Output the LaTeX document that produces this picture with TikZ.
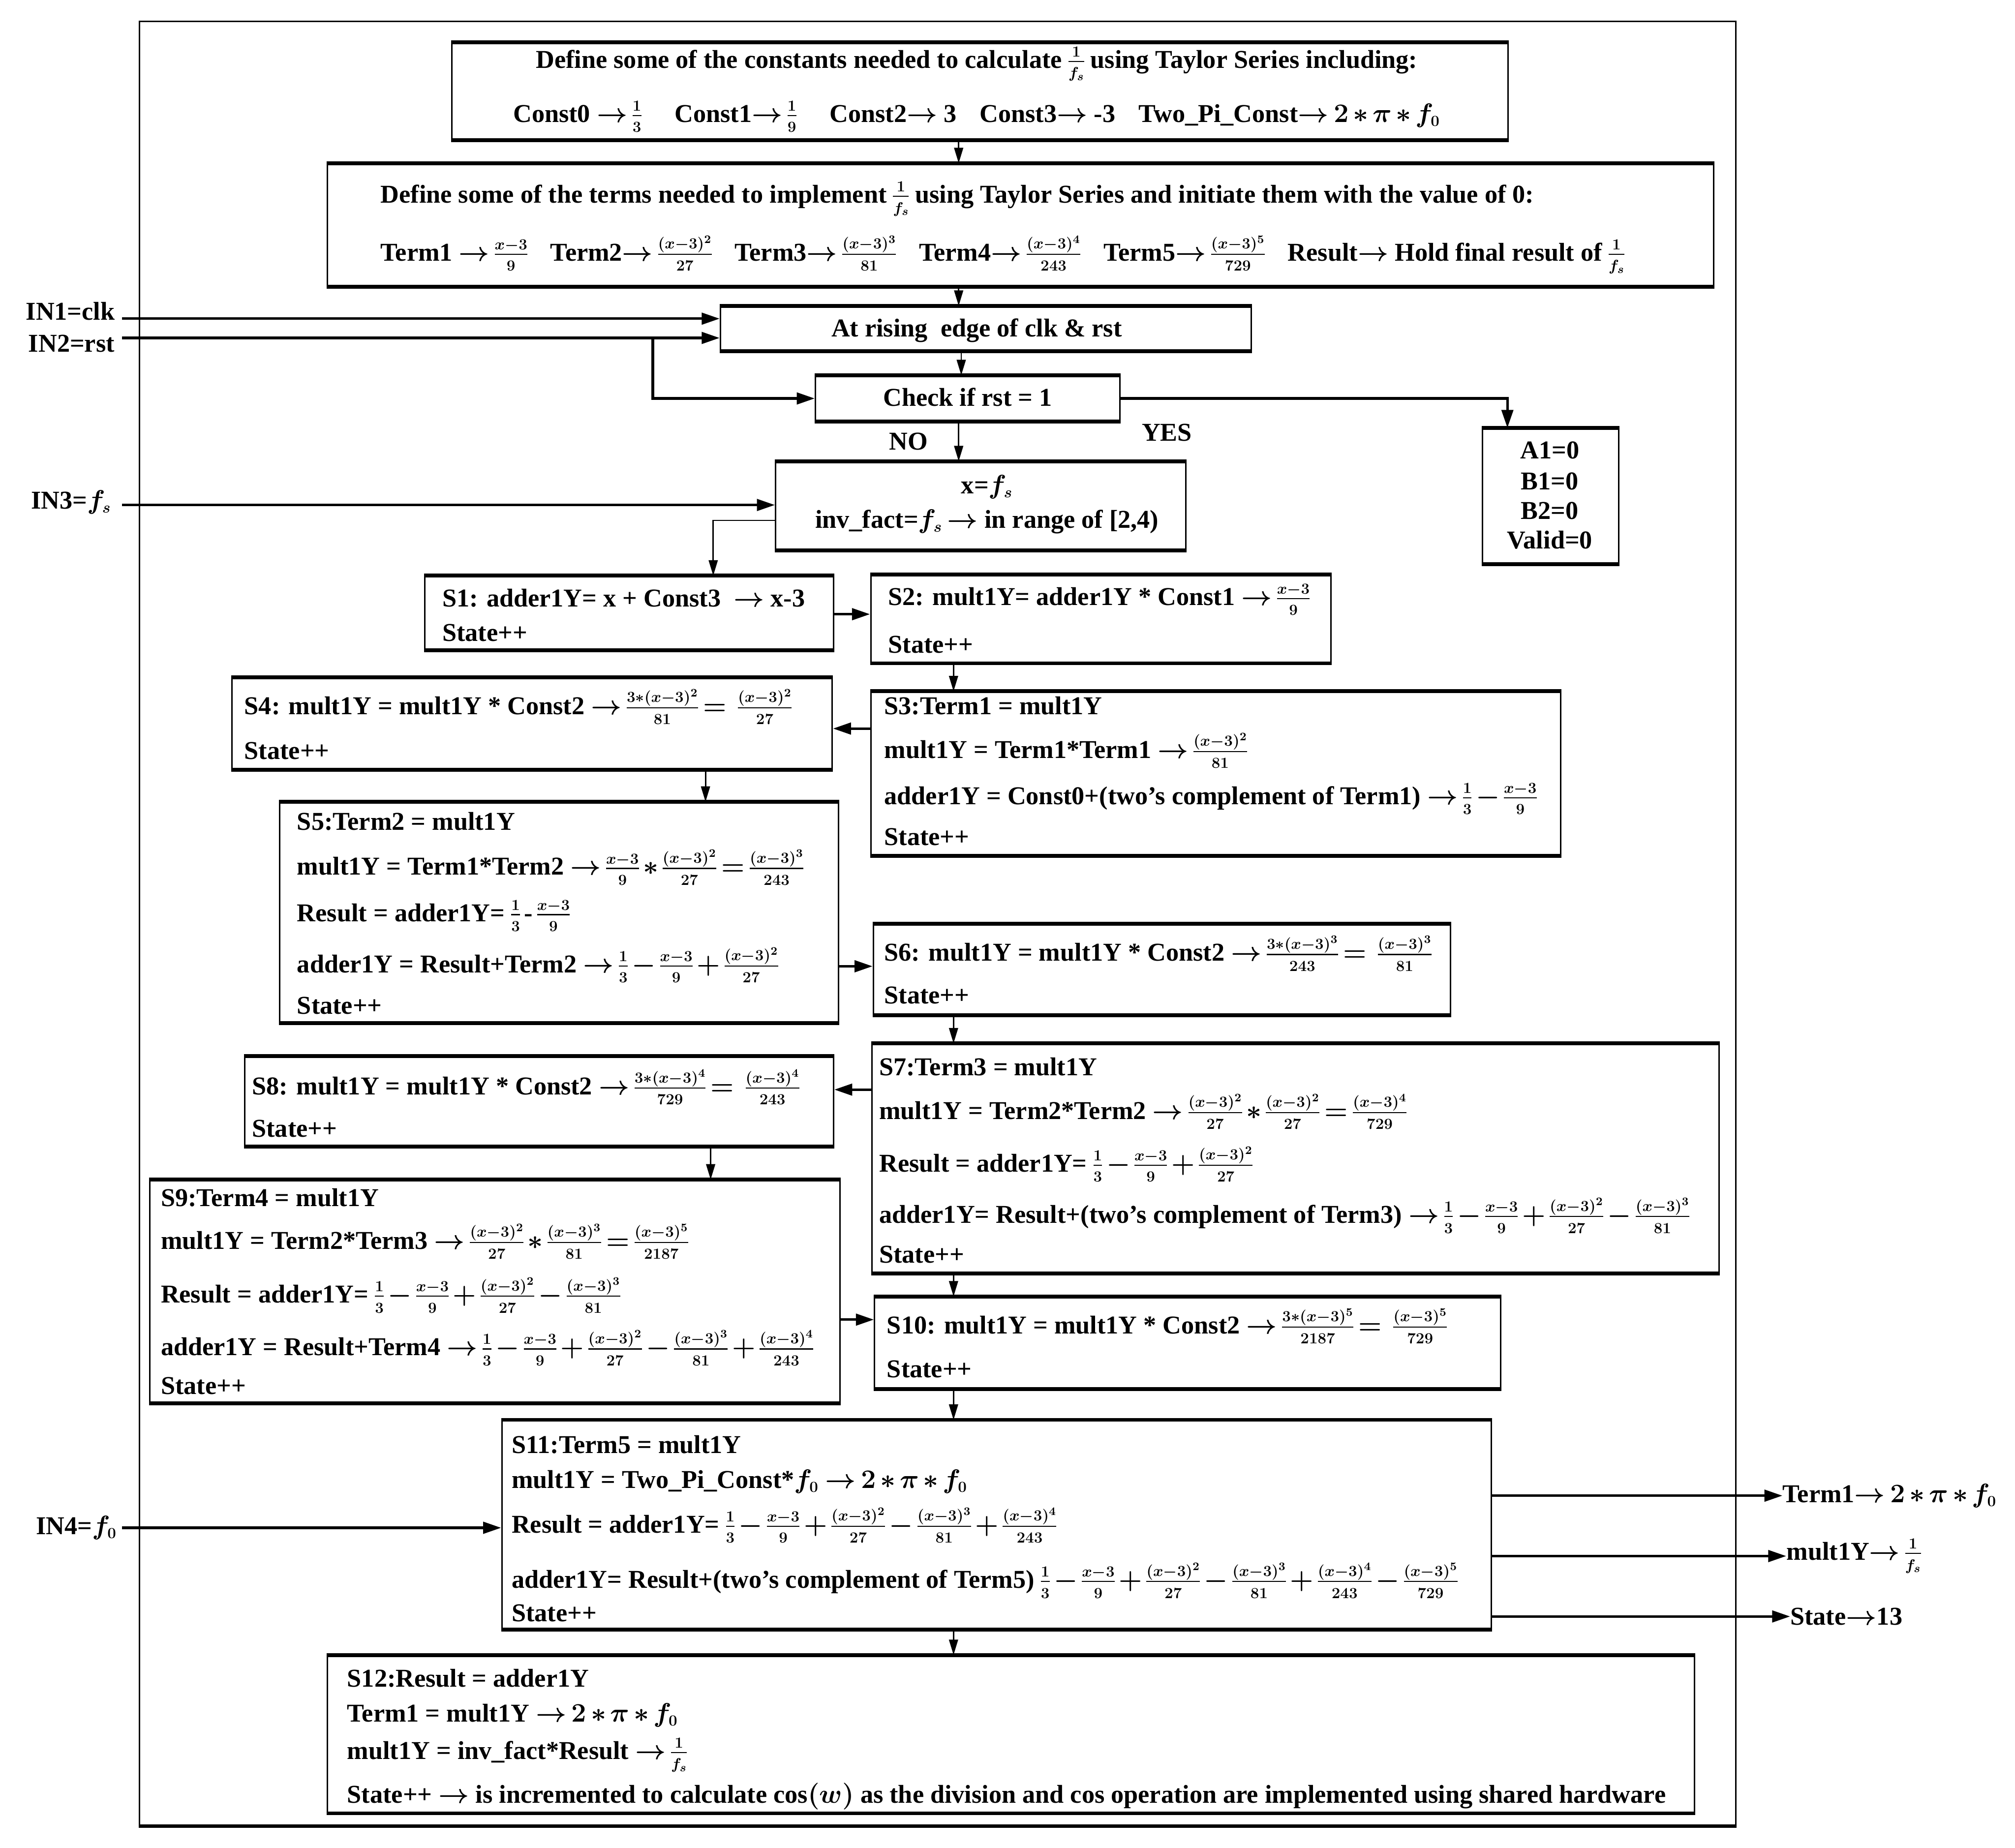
\documentclass[tikz,border=0pt]{standalone}
\usepackage{amsmath}
\usepackage{fontspec}
\setmainfont{Liberation Serif}
\usetikzlibrary{arrows.meta}
\DeclareMathSizes{20}{20}{13}{9.5}
\AtBeginDocument{\medmuskip=2.5mu\relax\thickmuskip=3mu\relax\nulldelimiterspace=0pt\relax}
\newcommand{\drawflowbox}[5]{%
  \pgfmathsetmacro\fbw{#4-#2}%
  \pgfmathsetmacro\fbh{#5-#3}%
  \node[boxsty, anchor=north west, minimum width=\fbw pt, minimum height=\fbh pt] (#1) at (#2,#3) {};
  \draw[edgesty] (#1.north west) -- (#1.north east) (#1.south west) -- (#1.south east);
}
\tikzset{
  tl/.style={anchor=base west, inner sep=0pt},
  tc/.style={anchor=base, inner sep=0pt},
  boxsty/.style={draw, line width=1.2pt, inner sep=0pt},
  edgesty/.style={line width=3pt},
  arr/.style={line width=1.1pt, -{Triangle[length=12pt,width=7pt]}},
  inarr/.style={line width=2pt, -{Triangle[length=14pt,width=9pt]}},
}
\begin{document}
\begin{tikzpicture}[x=1pt, y=-1pt, font=\fontsize{20}{24}\selectfont\bfseries\boldmath]
\useasboundingbox[fill=white] (0,0) rectangle (1568,1438);

% outer frame
\node[boxsty, anchor=north west, minimum width=1242pt, minimum height=1404pt] (outer) at (108,16) {};
\draw[edgesty] (outer.south west) -- (outer.south east);

% boxes
\drawflowbox{boxA}{351}{33}{1173}{108}
\drawflowbox{boxB}{254}{127}{1333}{222}
\drawflowbox{boxC}{560}{238}{973}{272}
\drawflowbox{boxD}{634}{292}{871}{327}
\drawflowbox{boxE}{1153}{333}{1259}{438}
\drawflowbox{boxF}{603}{359}{922}{427}
\drawflowbox{s1}{330}{448}{648}{505}
\drawflowbox{s2}{677}{447}{1035}{515}
\drawflowbox{s3}{677}{538}{1214}{665}
\drawflowbox{s4}{180}{527}{647}{598}
\drawflowbox{s5}{217}{624}{652}{795}
\drawflowbox{s6}{679}{719}{1128}{789}
\drawflowbox{s7}{678}{812}{1337}{990}
\drawflowbox{s8}{190}{822}{648}{891}
\drawflowbox{s9}{116}{918}{653}{1091}
\drawflowbox{s10}{680}{1009}{1167}{1080}
\drawflowbox{s11}{390}{1105}{1160}{1267}
\drawflowbox{s12}{254}{1288}{1318}{1410}

% box A
\node[tc] (a1) at (760,53) {Define some of the constants needed to calculate $\frac{1}{f_s}$ using Taylor Series including:};
\node[tc] (a2) at (760,95) {Const0 $\rightarrow\frac{1}{3}$\hspace{1.3em}Const1$\rightarrow\frac{1}{9}$\hspace{1.3em}Const2$\rightarrow$ 3\hspace{0.9em}Const3$\rightarrow$ -3\hspace{0.9em}Two\_Pi\_Const$\rightarrow 2\ast\pi\ast f_0$};
% box B
\node[tl] (b1) at (296,158) {Define some of the terms needed to implement $\frac{1}{f_s}$ using Taylor Series and initiate them with the value of 0:};
\node[tl] (b2) at (296,203) {Term1 $\rightarrow\frac{x-3}{9}$\hspace{0.9em}Term2$\rightarrow\frac{(x-3)^2}{27}$\hspace{0.9em}Term3$\rightarrow\frac{(x-3)^3}{81}$\hspace{0.9em}Term4$\rightarrow\frac{(x-3)^4}{243}$\hspace{0.9em}Term5$\rightarrow\frac{(x-3)^5}{729}$\hspace{0.9em}Result$\rightarrow$ Hold final result of $\frac{1}{f_s}$};
% C, D, E, F
\node[tc] (c1) at (760,262) {At rising\ \ edge of clk \& rst};
\node[tc] (d1) at (753,316) {Check if rst = 1};
\node[tc] (e1) at (1206,357) {A1=0};
\node[tc] (e2) at (1206,381) {B1=0};
\node[tc] (e3) at (1206,404) {B2=0};
\node[tc] (e4) at (1206,427) {Valid=0};
\node[tc] (f1) at (768,384) {x=$f_s$};
\node[tc] (f2) at (768,411) {inv\_fact=$f_s\rightarrow$ in range of [2,4)};
\node[tc] (no) at (707,350) {NO};
\node[tc] (yes) at (908,343) {YES};

% inputs
\node[tl] (in1) at (20,249) {IN1=clk};
\node[tl] (in2) at (22,274) {IN2=rst};
\node[tl] (in3) at (24,396) {IN3=$f_s$};
\node[tl] (in4) at (28,1194) {IN4=$f_0$};

% S1 .. S12
\node[tl] (s1a) at (344,472) {S1: adder1Y= x + Const3 \ $\rightarrow$ x-3};
\node[tl] (s1b) at (344,499) {State++};
\node[tl] (s2a) at (691,471) {S2: mult1Y= adder1Y * Const1 $\rightarrow\frac{x-3}{9}$};
\node[tl] (s2b) at (691,508) {State++};
\node[tl] (s3a) at (688,556) {S3:Term1 = mult1Y};
\node[tl] (s3b) at (688,590) {mult1Y = Term1*Term1 $\rightarrow\frac{(x-3)^2}{81}$};
\node[tl] (s3c) at (688,626) {adder1Y = Const0+(two’s complement of Term1) $\rightarrow\frac{1}{3}-\frac{x-3}{9}$};
\node[tl] (s3d) at (688,658) {State++};
\node[tl] (s4a) at (190,556) {S4: mult1Y = mult1Y * Const2 $\rightarrow\frac{3\ast(x-3)^2}{81} = \ \frac{(x-3)^2}{27}$};
\node[tl] (s4b) at (190,591) {State++};
\node[tl] (s5a) at (231,646) {S5:Term2 = mult1Y};
\node[tl] (s5b) at (231,681) {mult1Y = Term1*Term2 $\rightarrow\frac{x-3}{9}\ast\frac{(x-3)^2}{27}=\frac{(x-3)^3}{243}$};
\node[tl] (s5c) at (231,717) {Result = adder1Y= $\frac{1}{3}$\,-\,$\frac{x-3}{9}$};
\node[tl] (s5d) at (231,757) {adder1Y = Result+Term2 $\rightarrow\frac{1}{3}-\frac{x-3}{9}+\frac{(x-3)^2}{27}$};
\node[tl] (s5e) at (231,789) {State++};
\node[tl] (s6a) at (688,748) {S6: mult1Y = mult1Y * Const2 $\rightarrow\frac{3\ast(x-3)^3}{243} = \ \frac{(x-3)^3}{81}$};
\node[tl] (s6b) at (688,781) {State++};
\node[tl] (s7a) at (684,837) {S7:Term3 = mult1Y};
\node[tl] (s7b) at (684,871) {mult1Y = Term2*Term2 $\rightarrow\frac{(x-3)^2}{27}\ast\frac{(x-3)^2}{27}=\frac{(x-3)^4}{729}$};
\node[tl] (s7c) at (684,912) {Result = adder1Y= $\frac{1}{3}-\frac{x-3}{9}+\frac{(x-3)^2}{27}$};
\node[tl] (s7d) at (684,952) {adder1Y= Result+(two’s complement of Term3) $\rightarrow\frac{1}{3}-\frac{x-3}{9}+\frac{(x-3)^2}{27}-\frac{(x-3)^3}{81}$};
\node[tl] (s7e) at (684,983) {State++};
\node[tl] (s8a) at (196,852) {S8: mult1Y = mult1Y * Const2 $\rightarrow\frac{3\ast(x-3)^4}{729} = \ \frac{(x-3)^4}{243}$};
\node[tl] (s8b) at (196,885) {State++};
\node[tl] (s9a) at (125,939) {S9:Term4 = mult1Y};
\node[tl] (s9b) at (125,972) {mult1Y = Term2*Term3 $\rightarrow\frac{(x-3)^2}{27}\ast\frac{(x-3)^3}{81}=\frac{(x-3)^5}{2187}$};
\node[tl] (s9c) at (125,1014) {Result = adder1Y= $\frac{1}{3}-\frac{x-3}{9}+\frac{(x-3)^2}{27}-\frac{(x-3)^3}{81}$};
\node[tl] (s9d) at (125,1055) {adder1Y = Result+Term4 $\rightarrow\frac{1}{3}-\frac{x-3}{9}+\frac{(x-3)^2}{27}-\frac{(x-3)^3}{81}+\frac{(x-3)^4}{243}$};
\node[tl] (s9e) at (125,1085) {State++};
\node[tl] (s10a) at (690,1038) {S10: mult1Y = mult1Y * Const2 $\rightarrow\frac{3\ast(x-3)^5}{2187} = \ \frac{(x-3)^5}{729}$};
\node[tl] (s10b) at (690,1072) {State++};
\node[tl] (s11a) at (398,1131) {S11:Term5 = mult1Y};
\node[tl] (s11b) at (398,1158) {mult1Y = Two\_Pi\_Const*$f_0$ $\rightarrow 2\ast\pi\ast f_0$};
\node[tl] (s11c) at (398,1193) {Result = adder1Y= $\frac{1}{3}-\frac{x-3}{9}+\frac{(x-3)^2}{27}-\frac{(x-3)^3}{81}+\frac{(x-3)^4}{243}$};
\node[tl] (s11d) at (398,1236) {adder1Y= Result+(two’s complement of Term5) $\frac{1}{3}-\frac{x-3}{9}+\frac{(x-3)^2}{27}-\frac{(x-3)^3}{81}+\frac{(x-3)^4}{243}-\frac{(x-3)^5}{729}$};
\node[tl] (s11e) at (398,1262) {State++};
\node[tl] (s12a) at (270,1313) {S12:Result = adder1Y};
\node[tl] (s12b) at (270,1340) {Term1 = mult1Y $\rightarrow 2\ast\pi\ast f_0$};
\node[tl] (s12c) at (270,1369) {mult1Y = inv\_fact*Result $\rightarrow\frac{1}{f_s}$};
\node[tl] (s12d) at (270,1403) {State++ $\rightarrow$ is incremented to calculate $\cos(w)$ as the division and cos operation are implemented using shared hardware};

% outputs
\node[anchor=west, inner sep=0pt] (o1) at (1387,1164) {Term1$\rightarrow 2\ast\pi\ast f_0$};
\node[anchor=west, inner sep=0pt] (o2) at (1390,1211) {mult1Y$\rightarrow\frac{1}{f_s}$};
\node[anchor=west, inner sep=0pt] (o3) at (1393,1258) {State$\rightarrow$13};

% connectors
\draw[arr] (boxA.south -| 746,0) -- (boxB.north -| 746,0);
\draw[arr] (boxB.south -| 746,0) -- (boxC.north -| 746,0);
\coordinate (in1s) at (95,248);
\draw[inarr] (in1s) -- (in1s -| boxC.west);
\coordinate (in2s) at (95,263);
\draw[inarr] (in2s) -- (in2s -| boxC.west);
\coordinate (br) at (508,263);
\draw[inarr] (br) |- (boxD.west);
\draw[arr] (boxC.south -| 748,0) -- (boxD.north -| 748,0);
\draw[inarr] (boxD.east) -| (boxE.north -| 1173,0);
\draw[arr] (boxD.south -| 746,0) -- (boxF.north -| 746,0);
\coordinate (in3s) at (95,393);
\draw[inarr] (in3s) -- (in3s -| boxF.west);
\draw[arr] (boxF.west |- 0,405) -| (s1.north -| 555,0);
\draw[inarr] (s1.east |- 0,478) -- (s2.west |- 0,478);
\draw[arr] (s2.south -| 742,0) -- (s3.north -| 742,0);
\draw[inarr] (s3.west |- 0,567) -- (s4.east |- 0,567);
\draw[arr] (s4.south -| 549,0) -- (s5.north -| 549,0);
\draw[inarr] (s5.east |- 0,752) -- (s6.west |- 0,752);
\draw[arr] (s6.south -| 742,0) -- (s7.north -| 742,0);
\draw[inarr] (s7.west |- 0,848) -- (s8.east |- 0,848);
\draw[arr] (s8.south -| 553,0) -- (s9.north -| 553,0);
\draw[inarr] (s9.east |- 0,1027) -- (s10.west |- 0,1027);
\draw[arr] (s7.south -| 742,0) -- (s10.north -| 742,0);
\draw[arr] (s10.south -| 742,0) -- (s11.north -| 742,0);
\coordinate (in4s) at (95,1189);
\draw[inarr] (in4s) -- (in4s -| s11.west);
\draw[inarr] (s11.east |- o1.west) -- (o1.west);
\draw[inarr] (s11.east |- o2.west) -- (o2.west);
\draw[inarr] (s11.east |- o3.west) -- (o3.west);
\draw[arr] (s11.south -| 742,0) -- (s12.north -| 742,0);
\end{tikzpicture}
\end{document}
